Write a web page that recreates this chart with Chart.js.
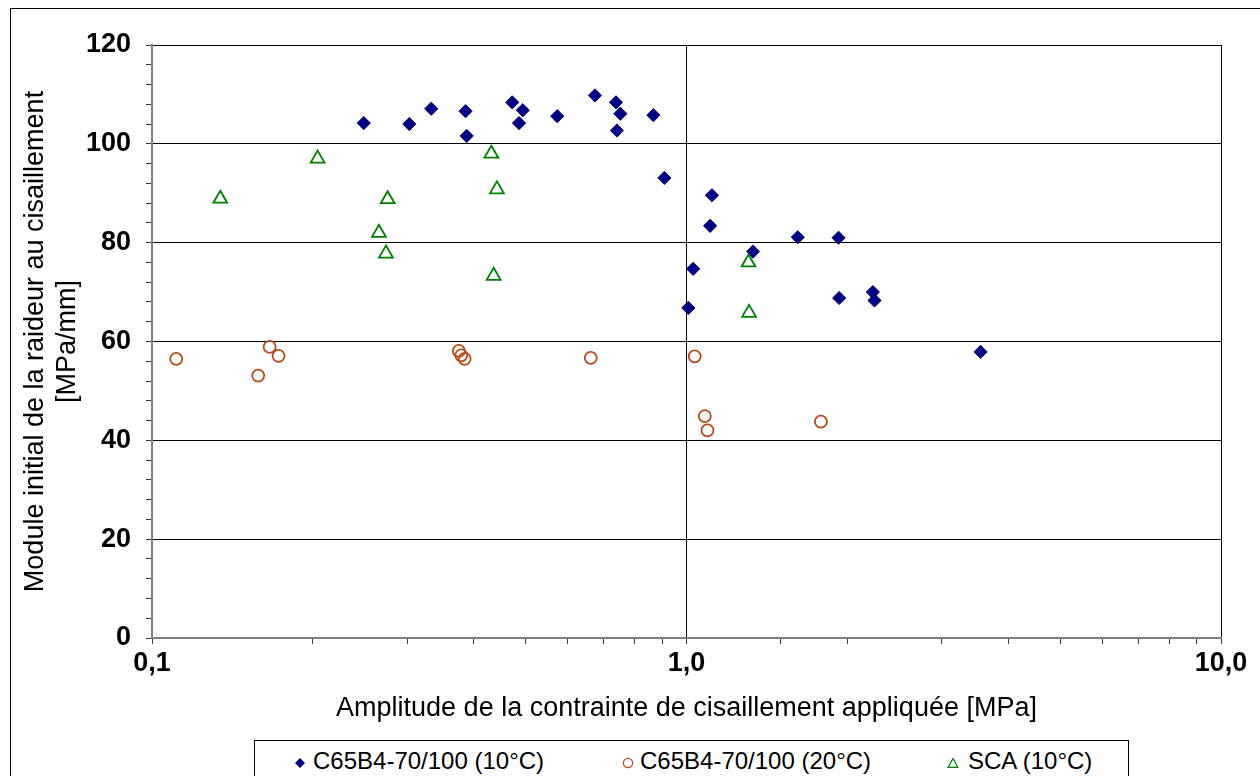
<!DOCTYPE html>
<html>
<head>
<meta charset="utf-8">
<script src="https://cdn.jsdelivr.net/npm/chart.js@4/dist/chart.umd.min.js"></script>
<style>
html,body{margin:0;padding:0;background:#fff;overflow:hidden;}
#wrap{position:relative;width:1260px;height:776px;overflow:hidden;font-family:"Liberation Sans",Arial,sans-serif;background:#fff;}
#frame{position:absolute;left:10px;top:8px;width:1400px;height:900px;border:1px solid #000;box-sizing:border-box;}
#c{position:absolute;left:0;top:0;}
#legend{position:absolute;left:254px;top:740px;width:875px;height:80px;border:1px solid #000;box-sizing:border-box;background:#fff;}
.txt{position:absolute;top:8px;font-size:24px;line-height:24px;white-space:nowrap;color:#000;}
.mk{position:absolute;top:16px;width:12px;height:12px;}
</style>
</head>
<body>
<div id="wrap">
  <div id="frame"></div>
  <canvas id="c" width="1260" height="776"></canvas>
  <div id="legend">
    <svg class="mk" style="left:39px" viewBox="0 0 12 12"><polygon points="6,1 11,6 6,11 1,6" fill="#000080"/></svg>
    <span class="txt" style="left:58px">C65B4-70/100 (10°C)</span>
    <svg class="mk" style="left:367px" viewBox="0 0 12 12"><circle cx="6" cy="6" r="4.6" fill="none" stroke="#B84A1A" stroke-width="1.3"/></svg>
    <span class="txt" style="left:385px">C65B4-70/100 (20°C)</span>
    <svg class="mk" style="left:692px" viewBox="0 0 12 12"><polygon points="6,1.5 10.8,10.3 1.2,10.3" fill="none" stroke="#008000" stroke-width="1.3"/></svg>
    <span class="txt" style="left:713px">SCA (10°C)</span>
  </div>
</div>
<script>
// ---- data ----
const seriesNames = ['C65B4-70/100 (10°C)', 'C65B4-70/100 (20°C)', 'SCA (10°C)'];

const blueX = [0.249, 0.303, 0.333, 0.386, 0.388, 0.472, 0.494, 0.486, 0.573, 0.674, 0.738, 0.752, 0.741, 0.867, 0.909, 1.116, 1.107, 1.029, 1.008, 1.332, 1.615, 1.925, 1.930, 2.232, 2.248, 3.550];
const blueY = [104.2, 104.0, 107.1, 106.6, 101.6, 108.4, 106.8, 104.2, 105.6, 109.8, 108.4, 106.1, 102.7, 105.8, 93.1, 89.6, 83.4, 74.7, 66.8, 78.2, 81.1, 81.0, 68.8, 70.0, 68.3, 57.9];

const orangeX = [0.111, 0.158, 0.166, 0.1725, 0.375, 0.379, 0.3845, 0.662, 1.036, 1.082, 1.0945, 1.784];
const orangeY = [56.5, 53.1, 58.9, 57.1, 58.1, 57.2, 56.5, 56.7, 57.0, 44.9, 42.0, 43.8];

const greenX = [0.1342, 0.2041, 0.2658, 0.276, 0.274, 0.4314, 0.4419, 0.4357, 1.306, 1.3094];
const greenY = [88.9, 97.0, 82.0, 88.8, 77.8, 98.0, 90.8, 73.3, 76.0, 65.8];

const xLabelValues = [0.1, 1, 10];
const xLabelTexts = ['0,1', '1,0', '10,0'];
const yLabelValues = [0, 20, 40, 60, 80, 100, 120];

const xTitle = 'Amplitude de la contrainte de cisaillement appliquée [MPa]';
const yTitle = ['Module initial de la raideur au cisaillement', '[MPa/mm]'];

// ---- chart ----
const pts = (xs, ys) => xs.map((x, i) => ({x: x, y: ys[i]}));
const FONT = '"Liberation Sans", Arial, Helvetica, sans-serif';
Chart.defaults.font.family = FONT;
Chart.defaults.color = '#000';

function xLabelFor(v) {
  for (let i = 0; i < xLabelValues.length; i++) {
    if (Math.abs(v - xLabelValues[i]) < 1e-9 * Math.max(1, xLabelValues[i])) return xLabelTexts[i];
  }
  return '';
}
function isDecade(v) {
  const l = Math.log10(v);
  return Math.abs(l - Math.round(l)) < 1e-6;
}

new Chart(document.getElementById('c'), {
  type: 'scatter',
  data: {
    datasets: [
      {label: seriesNames[0], data: pts(blueX, blueY), pointStyle: 'rectRot', pointRadius: 6.6, pointHoverRadius: 6.6,
       backgroundColor: '#000080', borderColor: '#000080', borderWidth: 1, order: 3},
      {label: seriesNames[1], data: pts(orangeX, orangeY), pointStyle: 'circle', pointRadius: 6, pointHoverRadius: 6,
       backgroundColor: 'rgba(0,0,0,0)', borderColor: '#B84A1A', borderWidth: 1.8, order: 2},
      {label: seriesNames[2], data: pts(greenX, greenY), pointStyle: 'triangle', pointRadius: 8, pointHoverRadius: 8,
       backgroundColor: 'rgba(0,0,0,0)', borderColor: '#008000', borderWidth: 1.8, order: 1}
    ]
  },
  options: {
    responsive: false,
    animation: false,
    events: [],
    layout: {padding: {top: 45, right: 39, bottom: 36, left: 0}},
    plugins: {legend: {display: false}, tooltip: {enabled: false}},
    scales: {
      x: {
        type: 'logarithmic',
        min: 0.1, max: 10,
        afterFit: s => { s.height = 102; },
        border: {display: true, color: '#808080', width: 2},
        grid: {
          drawOnChartArea: true,
          color: ctx => (ctx.tick && isDecade(ctx.tick.value) && ctx.tick.value > 0.5) ? '#000' : 'rgba(0,0,0,0)',
          lineWidth: 1,
          tickColor: '#333',
          tickLength: 6,
          tickWidth: 1
        },
        ticks: {
          autoSkip: false,
          maxRotation: 0,
          padding: 3,
          font: {size: 27, weight: 'bold'},
          callback: v => xLabelFor(v)
        },
        title: {display: true, text: xTitle, font: {size: 27}, padding: {top: 0, bottom: 15}}
      },
      y: {
        type: 'linear',
        min: 0, max: 120,
        afterFit: s => { s.width = 152; },
        border: {display: true, color: '#808080', width: 2},
        grid: {
          color: ctx => (ctx.tick && ctx.tick.value % 20 === 0 && ctx.tick.value > 0) ? '#000' : 'rgba(0,0,0,0)',
          lineWidth: 1,
          tickColor: '#333',
          tickLength: 6,
          tickWidth: 1
        },
        ticks: {
          stepSize: 4,
          autoSkip: false,
          padding: 15,
          font: {size: 27, weight: 'bold'},
          callback: v => (yLabelValues.indexOf(v) >= 0 ? String(v) : '')
        },
        title: {display: true, text: yTitle, font: {size: 27}, padding: {top: 19, bottom: 0}}
      }
    }
  }
});
</script>
</body>
</html>
